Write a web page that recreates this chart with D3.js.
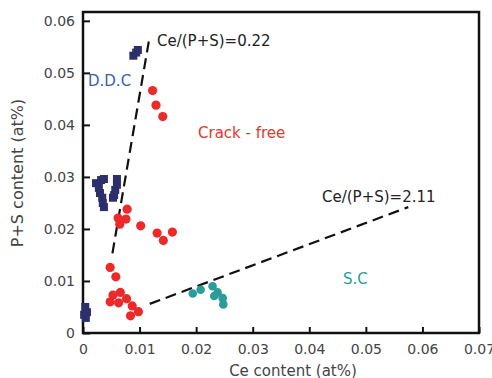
<!DOCTYPE html>
<html>
<head>
<meta charset="utf-8">
<script src="https://cdn.jsdelivr.net/npm/d3@7"></script>
<style>
  body { margin: 0; background: #fff; }
  text { font-family: "DejaVu Sans", sans-serif; }
</style>
</head>
<body>
<div id="chart"></div>
<script>
const width = 492
const height = 378
const margin = { top: 12, right: 13, bottom: 45, left: 83 }

// data (Ce at%, P+S at%)
const ddcCe = [0.0089, 0.0094, 0.0097, 0.0023, 0.0032, 0.0037, 0.0028, 0.0030, 0.0034, 0.0035, 0.0037, 0.0060, 0.0060, 0.0057, 0.0055, 0.0053, 0.0004, 0.0007, 0.0005, 0.0002]
const ddcPS = [0.0533, 0.0539, 0.0544, 0.0288, 0.0294, 0.0296, 0.0279, 0.0269, 0.0260, 0.0250, 0.0242, 0.0296, 0.0285, 0.0275, 0.0265, 0.0260, 0.0050, 0.0040, 0.0029, 0.0035]
const crackCe = [0.0123, 0.0129, 0.0141, 0.0065, 0.0078, 0.0062, 0.0076, 0.0102, 0.0131, 0.0142, 0.0158, 0.0048, 0.0058, 0.0053, 0.0066, 0.0048, 0.0063, 0.0077, 0.0087, 0.0098, 0.0084]
const crackPS = [0.0466, 0.0438, 0.0416, 0.0209, 0.0238, 0.0221, 0.0219, 0.0206, 0.0192, 0.0178, 0.0194, 0.0126, 0.0108, 0.0073, 0.0078, 0.0060, 0.0058, 0.0066, 0.0052, 0.0041, 0.0033]
const scCe = [0.0194, 0.0208, 0.0229, 0.0232, 0.0238, 0.0247, 0.0248]
const scPS = [0.0076, 0.0083, 0.0090, 0.0071, 0.0078, 0.0067, 0.0055]

// dashed ratio lines
const line1 = [[0.0052, 0.0153], [0.0118, 0.0571]]
const line2 = [[0.0118, 0.0056], [0.0575, 0.0242]]

const xTicks = [0, 0.01, 0.02, 0.03, 0.04, 0.05, 0.06, 0.07]
const yTicks = [0, 0.01, 0.02, 0.03, 0.04, 0.05, 0.06]

const svg = d3.select('#chart').append('svg').attr('width', width).attr('height', height)
const innerW = width - margin.left - margin.right
const innerH = height - margin.top - margin.bottom

const x = d3.scaleLinear().domain([0, 0.07]).range([margin.left, margin.left + innerW])
const y = d3.scaleLinear().domain([0, 0.0617]).range([margin.top + innerH, margin.top])

const fmt = d => d === 0 ? '0' : d3.format('.2f')(d)

// axes with inward ticks
const xAxis = d3.axisBottom(x).tickValues(xTicks).tickFormat(fmt).tickSizeInner(-6).tickSizeOuter(0).tickPadding(11)
const yAxis = d3.axisLeft(y).tickValues(yTicks).tickFormat(fmt).tickSizeInner(-7).tickSizeOuter(0).tickPadding(8)

const gx = svg.append('g').attr('transform', `translate(0, ${margin.top + innerH})`).call(xAxis)
const gy = svg.append('g').attr('transform', `translate(${margin.left}, 0)`).call(yAxis)
;[gx, gy].forEach(g => {
  g.select('.domain').remove()
  g.selectAll('.tick line').attr('stroke', '#111').attr('stroke-width', 2)
  g.selectAll('.tick text').attr('fill', '#444').style('font-size', '14px')
})

// frame
svg.append('rect')
  .attr('x', margin.left).attr('y', margin.top)
  .attr('width', innerW).attr('height', innerH)
  .attr('fill', 'none').attr('stroke', '#111').attr('stroke-width', 2.5)

// axis titles
svg.append('text').attr('x', 293).attr('y', 376)
  .attr('text-anchor', 'middle').attr('fill', '#444').style('font-size', '15px')
  .text('Ce content (at%)')
svg.append('text').attr('transform', `translate(23, 173) rotate(-90)`)
  .attr('text-anchor', 'middle').attr('fill', '#444').style('font-size', '16px')
  .text('P+S content (at%)')

// dashed lines
const lineGen = d3.line().x(d => x(d[0])).y(d => y(d[1]))
;[line1, line2].forEach(l => {
  svg.append('path').attr('d', lineGen(l))
    .attr('fill', 'none').attr('stroke', '#111').attr('stroke-width', 2.2)
    .attr('stroke-dasharray', '11,6')
})

// D.D.C squares
svg.append('g').selectAll('rect').data(d3.range(ddcCe.length)).join('rect')
  .attr('x', i => x(ddcCe[i]) - 4).attr('y', i => y(ddcPS[i]) - 4)
  .attr('width', 8).attr('height', 8)
  .attr('fill', '#2d2f6b')

// crack-free circles
svg.append('g').selectAll('circle').data(d3.range(crackCe.length)).join('circle')
  .attr('cx', i => x(crackCe[i])).attr('cy', i => y(crackPS[i])).attr('r', 4.6)
  .attr('fill', '#ec2a2a')

// S.C points
svg.append('g').selectAll('circle').data(d3.range(scCe.length)).join('circle')
  .attr('cx', i => x(scCe[i])).attr('cy', i => y(scPS[i])).attr('r', 4.3)
  .attr('fill', '#2a9c99')

// annotations
const label = (tx, ty, txt, col) => svg.append('text').attr('x', tx).attr('y', ty)
  .attr('fill', col).style('font-size', '15px').text(txt)
label(157, 46, 'Ce/(P+S)=0.22', '#222')
label(88, 86, 'D.D.C', '#3b62ad')
label(198, 138, 'Crack - free', '#e8332e')
label(322, 202, 'Ce/(P+S)=2.11', '#222')
label(343, 284, 'S.C', '#2a9c99')
</script>
</body>
</html>
